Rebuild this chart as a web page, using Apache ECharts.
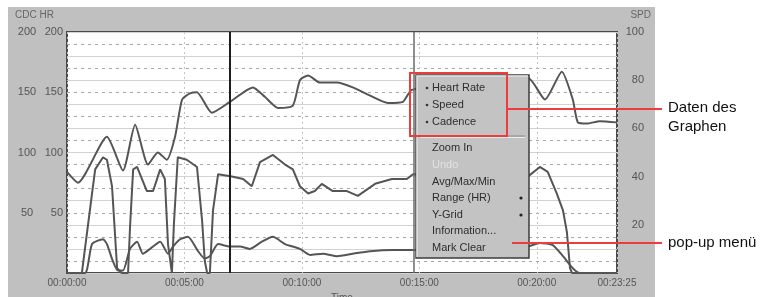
<!DOCTYPE html>
<html>
<head>
<meta charset="utf-8">
<script src="https://cdn.jsdelivr.net/npm/echarts@6/dist/echarts.min.js"></script>
<style>
html, body { margin: 0; padding: 0; background: #fff; }
#chart { width: 774px; height: 297px; }
</style>
</head>
<body>
<div id="chart"></div>
<script>
// Herzfrequenz (linke Achse, 0-200)
var hrTime = [0, 28, 102, 143, 174, 207, 232, 255, 276, 294, 314, 332, 370, 416, 475, 506, 539, 577, 595, 616, 646, 690, 730, 769, 820, 858, 881, 1029, 1177, 1221, 1264, 1292, 1305, 1328, 1361, 1405];
var hrValues = [84, 75, 113, 85, 123, 90, 100, 94, 113, 144, 149, 150, 133, 142, 154, 146, 137, 139, 160, 164, 158, 158, 154, 148, 141, 142, 152, 158, 162, 144, 167, 144, 125, 124, 126, 125];

// Trittfrequenz (linke Achse, 0-200)
var cdcTime = [0, 38, 64, 72, 92, 102, 115, 128, 140, 156, 161, 169, 179, 204, 220, 238, 250, 258, 268, 273, 283, 306, 332, 345, 352, 358, 365, 373, 386, 421, 450, 472, 493, 526, 557, 577, 595, 616, 633, 651, 679, 715, 743, 787, 830, 868, 884, 1029, 1177, 1208, 1228, 1251, 1267, 1277, 1285, 1290, 1405];
var cdcValues = [0, 0, 66, 86, 96, 94, 72, 4, 0, 0, 38, 86, 88, 68, 68, 86, 78, 24, 0, 40, 96, 94, 88, 44, 10, 0, 0, 52, 82, 80, 78, 72, 92, 98, 90, 86, 72, 66, 68, 74, 68, 68, 64, 74, 78, 78, 82, 80, 80, 88, 84, 66, 52, 34, 4, 0, 0];

// Geschwindigkeit (rechte Achse, 0-100)
var spdTime = [0, 46, 64, 92, 102, 117, 130, 143, 161, 179, 194, 212, 238, 258, 271, 289, 309, 335, 352, 365, 386, 416, 442, 467, 498, 526, 557, 595, 621, 654, 690, 730, 774, 833, 884, 1029, 1177, 1208, 1241, 1267, 1292, 1310, 1405];
var spdValues = [0, 0, 12, 14, 12, 5, 1, 1, 10, 13, 8, 10, 13, 8, 11, 14, 15, 9, 6, 7, 12, 11, 11, 10, 13, 15, 12, 10, 7.5, 8, 7, 8, 9, 9.5, 9.5, 10, 11, 12.5, 11.6, 7, 2, 0, 0];

// Markierungen (Sekunden)
var markTimes = [416, 886];

var menuItems = ['Heart Rate', 'Speed', 'Cadence', '', 'Zoom In', 'Undo', 'Avg/Max/Min', 'Range (HR)', 'Y-Grid', 'Information...', 'Mark Clear'];
var menuY = [88, 105, 122, 136, 148, 165, 182, 198, 215, 231, 248];

var FONT = '"Liberation Sans", Arial, sans-serif';

function pad(n) { return (n < 10 ? '0' : '') + n; }
function hms(v) {
	var h = Math.floor(v / 3600), m = Math.floor((v % 3600) / 60), s = Math.round(v % 60);
	return pad(h) + ':' + pad(m) + ':' + pad(s);
}
function pairs(t, v) {
	var out = [];
	for (var i = 0; i < t.length; i++) out.push([t[i], v[i]]);
	return out;
}

// Kontextmenü als Grafik-Elemente
var menuGraphics = [{
	type: 'rect', z: 100,
	shape: { x: 416, y: 75, width: 113, height: 183 },
	style: { fill: '#c3c3c3', stroke: '#3c3c3c', lineWidth: 1.5 }
}, {
	type: 'polyline', z: 101,
	shape: { points: [[417, 257], [417, 76], [528, 76]] },
	style: { stroke: '#e4e4e4', lineWidth: 1.5, fill: null }
}];
menuItems.forEach(function (item, i) {
	if (item === '') {
		menuGraphics.push({
			type: 'line', z: 101,
			shape: { x1: 420, y1: menuY[i], x2: 525, y2: menuY[i] },
			style: { stroke: '#8a8a8a', lineWidth: 1 }
		});
		menuGraphics.push({
			type: 'line', z: 101,
			shape: { x1: 420, y1: menuY[i] + 1.5, x2: 525, y2: menuY[i] + 1.5 },
			style: { stroke: '#eeeeee', lineWidth: 1 }
		});
		return;
	}
	menuGraphics.push({
		type: 'text', z: 102,
		x: 432, y: menuY[i],
		style: {
			text: item, fill: item === 'Undo' ? '#e2e2e2' : '#2e2e2e',
			font: '11px ' + FONT, verticalAlign: 'middle'
		}
	});
	if (i < 3) {
		menuGraphics.push({
			type: 'circle', z: 102,
			shape: { cx: 427, cy: menuY[i], r: 1.3 },
			style: { fill: '#333' }
		});
	}
	if (item === 'Range (HR)' || item === 'Y-Grid') {
		menuGraphics.push({
			type: 'circle', z: 102,
			shape: { cx: 521, cy: menuY[i], r: 1.6 },
			style: { fill: '#222' }
		});
	}
});

var chart = echarts.init(document.getElementById('chart'), null, { renderer: 'canvas' });

chart.setOption({
	animation: false,
	backgroundColor: '#ffffff',
	textStyle: { fontFamily: FONT },
	grid: {
		left: 67, top: 32, width: 550, height: 241,
		outerBoundsMode: 'none', containLabel: false,
		show: true, backgroundColor: '#ffffff',
		borderColor: '#4a4a4a', borderWidth: 2
	},
	xAxis: {
		type: 'value', min: 0, max: 1405, interval: 300,
		name: 'Time', nameLocation: 'middle', nameGap: 19,
		nameTextStyle: { color: '#555', fontSize: 10 },
		axisLine: { show: false }, axisTick: { show: false },
		axisLabel: { color: '#555', fontSize: 10, margin: 5, formatter: hms },
		splitLine: { show: true, lineStyle: { color: '#c4c4c4', type: [2, 3], width: 1 } }
	},
	yAxis: [{
		// HR
		type: 'value', position: 'left', min: 0, max: 200, interval: 50,
		axisLine: { show: false }, axisTick: { show: false },
		axisLabel: { color: '#555', fontSize: 11, margin: 4, showMinLabel: false },
		splitLine: { show: false }
	}, {
		// CDC
		type: 'value', position: 'left', min: 0, max: 200, interval: 50,
		axisLine: { show: false }, axisTick: { show: false },
		axisLabel: { color: '#555', fontSize: 11, margin: 40, align: 'center', showMinLabel: false },
		splitLine: { show: false }
	}, {
		// SPD
		type: 'value', position: 'right', min: 0, max: 100, interval: 10,
		axisLine: { show: false }, axisTick: { show: false },
		axisLabel: {
			color: '#555', fontSize: 11, margin: 27, align: 'right',
			formatter: function (v) { return (v > 0 && v % 20 === 0) ? String(v) : ''; }
		},
		splitLine: { show: true, lineStyle: { color: '#d2d2d2', width: 1 } },
		minorTick: { show: false, splitNumber: 2 },
		minorSplitLine: { show: true, lineStyle: { color: '#a6a6a6', type: [3, 4], width: 1 } }
	}],
	series: [{
		name: 'Heart Rate', type: 'line', yAxisIndex: 0,
		data: pairs(hrTime, hrValues),
		symbol: 'none', smooth: 0.2,
		lineStyle: { color: '#555', width: 2 },
		markLine: {
			silent: true, symbol: 'none', label: { show: false },
			data: [
				{ xAxis: markTimes[0], lineStyle: { color: '#1e1e1e', width: 2, type: 'solid' } },
				{ xAxis: markTimes[1], lineStyle: { color: '#6a6a6a', width: 1.5, type: 'solid' } }
			]
		}
	}, {
		name: 'Cadence', type: 'line', yAxisIndex: 0,
		data: pairs(cdcTime, cdcValues),
		symbol: 'none',
		lineStyle: { color: '#555', width: 2 }
	}, {
		name: 'Speed', type: 'line', yAxisIndex: 2,
		data: pairs(spdTime, spdValues),
		symbol: 'none', smooth: 0.2,
		lineStyle: { color: '#555', width: 2 }
	}],
	graphic: [{
		type: 'rect', z: -10, silent: true,
		shape: { x: 8, y: 7, width: 647, height: 290 },
		style: { fill: '#c0c0c0' }
	}, {
		type: 'text', z: 5, x: 15, y: 15,
		style: { text: 'CDC HR', fill: '#666', font: '10px ' + FONT, verticalAlign: 'middle' }
	}, {
		type: 'text', z: 5, x: 651, y: 15,
		style: { text: 'SPD', fill: '#666', font: '10px ' + FONT, verticalAlign: 'middle', align: 'right' }
	}].concat(menuGraphics).concat([{
		type: 'rect', z: 110,
		shape: { x: 410, y: 73, width: 97, height: 63 },
		style: { fill: null, stroke: '#f23a3a', lineWidth: 2 }
	}, {
		type: 'line', z: 110,
		shape: { x1: 507, y1: 109, x2: 662, y2: 109 },
		style: { stroke: '#f23a3a', lineWidth: 2 }
	}, {
		type: 'line', z: 110,
		shape: { x1: 512, y1: 243, x2: 662, y2: 243 },
		style: { stroke: '#f23a3a', lineWidth: 2 }
	}, {
		type: 'text', z: 110, x: 668, y: 117,
		style: { text: 'Daten des\nGraphen', fill: '#111', font: '15px ' + FONT, lineHeight: 19, verticalAlign: 'middle' }
	}, {
		type: 'text', z: 110, x: 668, y: 243,
		style: { text: 'pop-up menü', fill: '#111', font: '15px ' + FONT, verticalAlign: 'middle' }
	}])
});
</script>
</body>
</html>
